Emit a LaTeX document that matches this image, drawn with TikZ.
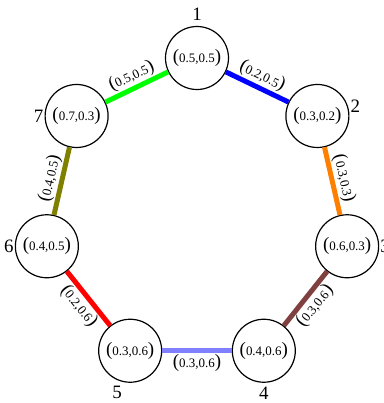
\documentclass[tikz,border=0pt]{standalone}
\usepackage{fontspec}
\setmainfont{Liberation Serif}
\definecolor{BrownClr}{RGB}{128,64,64}
\definecolor{PaleBlueClr}{RGB}{128,128,255}
\definecolor{OliveClr}{RGB}{128,128,0}
\definecolor{OrangeClr}{RGB}{255,128,0}
\newcommand{\pairlbl}[2]{{\fontsize{19}{20}\selectfont(}{\fontsize{13}{14}\selectfont#1,#2}{\fontsize{19}{20}\selectfont)}}

\begin{document}
\begin{tikzpicture}[x=1bp,y=1bp,
  vertex/.style={circle,draw,line width=1.2bp,minimum size=63bp,inner sep=0pt},
  edge/.style={line width=5bp},
  weight/.style={midway,sloped,inner sep=1bp,text=black},
  every label/.style={font=\fontsize{19}{20}\selectfont,inner sep=1bp}]

\useasboundingbox (-197,-191) rectangle (187,212);

\node[vertex,label={[label distance=4bp]above:1}] (v1) at (90:154) {\pairlbl{0.5}{0.5}};
\node[vertex,label={[yshift=10bp]right:2}] (v2) at (38.571:154) {\pairlbl{0.3}{0.2}};
\node[vertex,label={right:3}] (v3) at (-12.857:154) {\pairlbl{0.6}{0.3}};
\node[vertex,label={[label distance=3bp]below:4}] (v4) at (-64.286:154) {\pairlbl{0.4}{0.6}};
\node[vertex,label={[label distance=2bp,xshift=-13bp]below:5}] (v5) at (-115.714:154) {\pairlbl{0.3}{0.6}};
\node[vertex,label={left:6}] (v6) at (-167.143:154) {\pairlbl{0.4}{0.5}};
\node[vertex,label={left:7}] (v7) at (141.429:154) {\pairlbl{0.7}{0.3}};

\draw[edge,blue] (v1) -- node[weight,above] {\pairlbl{0.2}{0.5}} (v2);
\draw[edge,OrangeClr] (v2) -- node[weight,above] {\pairlbl{0.3}{0.3}} (v3);
\draw[edge,BrownClr] (v3) -- node[weight,below] {\pairlbl{0.3}{0.6}} (v4);
\draw[edge,PaleBlueClr] (v4) -- node[weight,below] {\pairlbl{0.3}{0.6}} (v5);
\draw[edge,red] (v5) -- node[weight,below] {\pairlbl{0.2}{0.6}} (v6);
\draw[edge,OliveClr] (v6) -- node[weight,above] {\pairlbl{0.4}{0.5}} (v7);
\draw[edge,green] (v7) -- node[weight,above] {\pairlbl{0.5}{0.5}} (v1);

\end{tikzpicture}
\end{document}
